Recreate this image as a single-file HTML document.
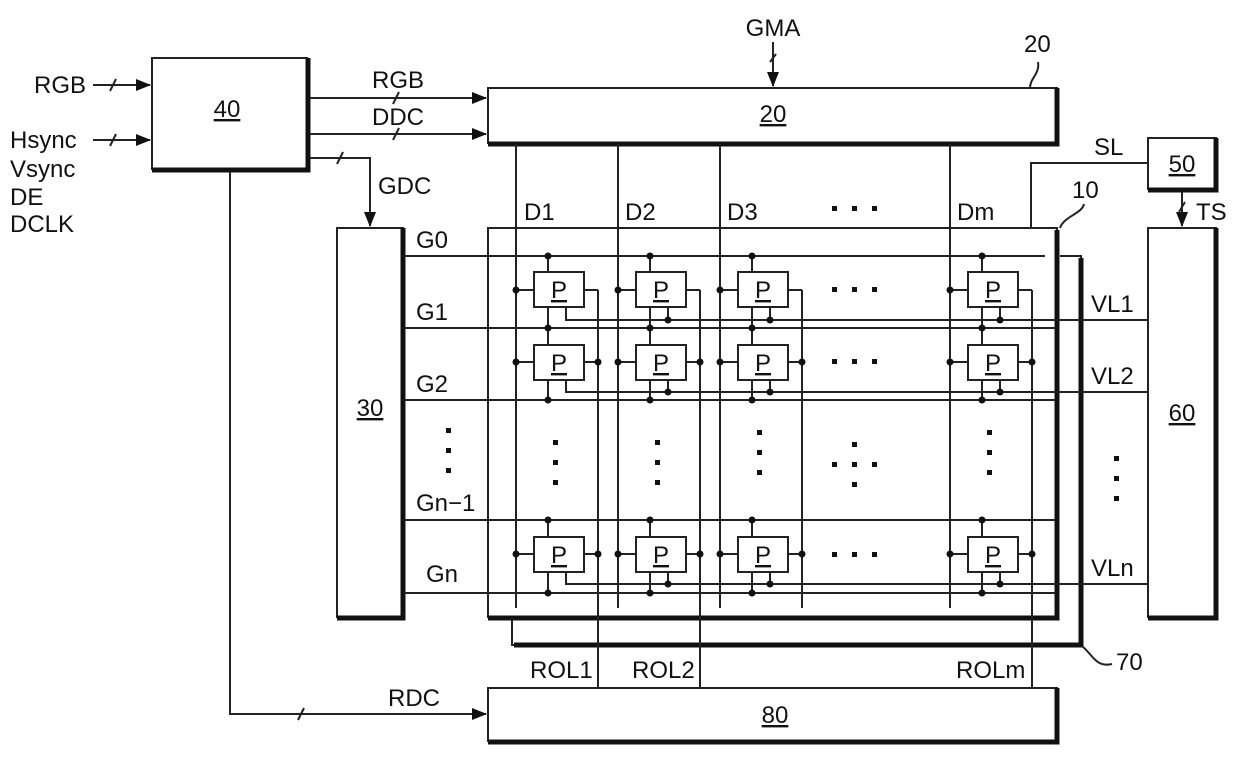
<!DOCTYPE html>
<html><head><meta charset="utf-8"><style>
html,body{margin:0;padding:0;background:#fff;}
svg{display:block;}
text{font-family:"Liberation Sans",sans-serif;font-size:24px;fill:#111;}
</style></head><body>
<svg width="1240" height="761" viewBox="0 0 1240 761" xmlns="http://www.w3.org/2000/svg">
<defs>
<marker id="ar" markerWidth="15" markerHeight="12" refX="14" refY="6" orient="auto" markerUnits="userSpaceOnUse"><path d="M0,0 L15,6 L0,12 z" fill="#111"/></marker>
</defs>
<g stroke="#222" stroke-width="2" fill="none">
<polyline points="1060,256 1081,256 1081,645 512,645 512,620" />
</g>
<g stroke="#111" stroke-width="5" fill="none">
<polyline points="1081,258 1081,645 514,645"/>
</g>
<g stroke="#222" stroke-width="2" fill="#fff">
<rect x="152" y="58" width="155" height="111"/>
<rect x="488" y="88" width="569" height="55"/>
<rect x="337" y="228" width="66" height="389"/>
<rect x="488" y="228" width="569" height="389"/>
<rect x="1148" y="228" width="68" height="389"/>
<rect x="1148" y="138" width="68" height="51"/>
<rect x="488" y="688" width="569" height="53"/>
</g>
<g stroke="#111" stroke-width="5" fill="none">
<polyline points="308,58 308,170 152,170"/>
<polyline points="1057,88 1057,144 488,144"/>
<polyline points="403,228 403,618 337,618"/>
<polyline points="1057,230 1057,618 488,618"/>
<polyline points="1216,228 1216,618 1148,618"/>
<polyline points="1216,138 1216,190 1148,190"/>
<polyline points="1057,688 1057,742 488,742"/>
</g>
<g stroke="#222" stroke-width="2" fill="none">
<line x1="93" y1="85" x2="150" y2="85" marker-end="url(#ar)"/>
<line x1="93" y1="140" x2="150" y2="140" marker-end="url(#ar)"/>
<line x1="110" y1="91" x2="116" y2="79"/><line x1="110" y1="146" x2="116" y2="134"/>
<line x1="310" y1="98" x2="486" y2="98" marker-end="url(#ar)"/>
<line x1="310" y1="134" x2="486" y2="134" marker-end="url(#ar)"/>
<line x1="393" y1="104" x2="399" y2="92"/><line x1="393" y1="140" x2="399" y2="128"/>
<polyline points="310,158 370,158 370,226" marker-end="url(#ar)"/>
<line x1="337" y1="164" x2="343" y2="152"/>
<polyline points="230,172 230,714 486,714" marker-end="url(#ar)"/>
<line x1="298" y1="720" x2="304" y2="708"/>
<line x1="773" y1="42" x2="773" y2="86" marker-end="url(#ar)"/>
<line x1="770" y1="62" x2="776" y2="54"/>
<path d="M1030,88 C1030,78 1040,74 1038,62"/>
<path d="M1060,228 C1064,216 1082,214 1084,204"/>
<path d="M1083,647 C1092,654 1096,668 1112,664"/>
<polyline points="1148,163 1031,163 1031,228"/>
<line x1="1182" y1="191" x2="1182" y2="226" marker-end="url(#ar)"/>
<line x1="1179" y1="212" x2="1185" y2="202"/>
<line x1="516" y1="144" x2="516" y2="608"/>
<line x1="618" y1="144" x2="618" y2="608"/>
<line x1="720" y1="144" x2="720" y2="608"/>
<line x1="950" y1="144" x2="950" y2="608"/>
<line x1="598" y1="290" x2="598" y2="688"/>
<line x1="700" y1="290" x2="700" y2="688"/>
<line x1="802" y1="290" x2="802" y2="608"/>
<line x1="1032" y1="290" x2="1032" y2="688"/>
<line x1="404" y1="256" x2="1045" y2="256"/>
<line x1="404" y1="328" x2="1055" y2="328"/>
<line x1="404" y1="400" x2="1055" y2="400"/>
<line x1="404" y1="520" x2="1055" y2="520"/>
<line x1="404" y1="593" x2="1055" y2="593"/>
<polyline points="566,307 566,320 1148,320"/>
<polyline points="566,380 566,392 1148,392"/>
<polyline points="566,572 566,584 1148,584"/>
<line x1="548" y1="256" x2="548" y2="400"/><line x1="548" y1="520" x2="548" y2="593"/>
<line x1="650" y1="256" x2="650" y2="400"/><line x1="650" y1="520" x2="650" y2="593"/>
<line x1="752" y1="256" x2="752" y2="400"/><line x1="752" y1="520" x2="752" y2="593"/>
<line x1="982" y1="256" x2="982" y2="400"/><line x1="982" y1="520" x2="982" y2="593"/>
<line x1="668" y1="307" x2="668" y2="320"/><line x1="668" y1="380" x2="668" y2="392"/><line x1="668" y1="572" x2="668" y2="584"/>
<line x1="770" y1="307" x2="770" y2="320"/><line x1="770" y1="380" x2="770" y2="392"/><line x1="770" y1="572" x2="770" y2="584"/>
<line x1="1000" y1="307" x2="1000" y2="320"/><line x1="1000" y1="380" x2="1000" y2="392"/><line x1="1000" y1="572" x2="1000" y2="584"/>
<path d="M516,290h18M584,290h14M618,290h18M686,290h14M720,290h18M788,290h14M950,290h18M1018,290h14"/>
<path d="M516,362h18M584,362h14M618,362h18M686,362h14M720,362h18M788,362h14M950,362h18M1018,362h14"/>
<path d="M516,554h18M584,554h14M618,554h18M686,554h14M720,554h18M788,554h14M950,554h18M1018,554h14"/>
</g>
<g stroke="#222" stroke-width="2" fill="#fff">
<rect x="534" y="272" width="50" height="35"/><rect x="636" y="272" width="50" height="35"/><rect x="738" y="272" width="50" height="35"/><rect x="968" y="272" width="50" height="35"/>
<rect x="534" y="345" width="50" height="35"/><rect x="636" y="345" width="50" height="35"/><rect x="738" y="345" width="50" height="35"/><rect x="968" y="345" width="50" height="35"/>
<rect x="534" y="537" width="50" height="35"/><rect x="636" y="537" width="50" height="35"/><rect x="738" y="537" width="50" height="35"/><rect x="968" y="537" width="50" height="35"/>
</g>
<g fill="#111">
<circle cx="548" cy="256" r="3.5"/><circle cx="650" cy="256" r="3.5"/><circle cx="752" cy="256" r="3.5"/><circle cx="982" cy="256" r="3.5"/>
<circle cx="548" cy="328" r="3.5"/><circle cx="650" cy="328" r="3.5"/><circle cx="752" cy="328" r="3.5"/><circle cx="982" cy="328" r="3.5"/>
<circle cx="548" cy="400" r="3.5"/><circle cx="650" cy="400" r="3.5"/><circle cx="752" cy="400" r="3.5"/><circle cx="982" cy="400" r="3.5"/>
<circle cx="548" cy="520" r="3.5"/><circle cx="650" cy="520" r="3.5"/><circle cx="752" cy="520" r="3.5"/><circle cx="982" cy="520" r="3.5"/>
<circle cx="548" cy="593" r="3.5"/><circle cx="650" cy="593" r="3.5"/><circle cx="752" cy="593" r="3.5"/><circle cx="982" cy="593" r="3.5"/>
<circle cx="516" cy="290" r="3.5"/><circle cx="618" cy="290" r="3.5"/><circle cx="720" cy="290" r="3.5"/><circle cx="950" cy="290" r="3.5"/>
<circle cx="516" cy="362" r="3.5"/><circle cx="618" cy="362" r="3.5"/><circle cx="720" cy="362" r="3.5"/><circle cx="950" cy="362" r="3.5"/>
<circle cx="516" cy="554" r="3.5"/><circle cx="618" cy="554" r="3.5"/><circle cx="720" cy="554" r="3.5"/><circle cx="950" cy="554" r="3.5"/>
<circle cx="598" cy="362" r="3.5"/><circle cx="700" cy="362" r="3.5"/><circle cx="802" cy="362" r="3.5"/><circle cx="1032" cy="362" r="3.5"/>
<circle cx="598" cy="554" r="3.5"/><circle cx="700" cy="554" r="3.5"/><circle cx="802" cy="554" r="3.5"/><circle cx="1032" cy="554" r="3.5"/>
<circle cx="668" cy="320" r="3.5"/><circle cx="770" cy="320" r="3.5"/><circle cx="1000" cy="320" r="3.5"/>
<circle cx="668" cy="392" r="3.5"/><circle cx="770" cy="392" r="3.5"/><circle cx="1000" cy="392" r="3.5"/>
<circle cx="668" cy="584" r="3.5"/><circle cx="770" cy="584" r="3.5"/><circle cx="1000" cy="584" r="3.5"/>
<path d="M832,206h5v5h-5zM852,206h5v5h-5zM872,206h5v5h-5z"/>
<path d="M832,287h5v5h-5zM852,287h5v5h-5zM872,287h5v5h-5z"/>
<path d="M832,359h5v5h-5zM852,359h5v5h-5zM872,359h5v5h-5z"/>
<path d="M832,552h5v5h-5zM852,552h5v5h-5zM872,552h5v5h-5z"/>
<path d="M446,428h5v5h-5zM446,448h5v5h-5zM446,468h5v5h-5z"/>
<path d="M553,440h5v5h-5zM553,460h5v5h-5zM553,480h5v5h-5z"/>
<path d="M655,440h5v5h-5zM655,460h5v5h-5zM655,480h5v5h-5z"/>
<path d="M757,430h5v5h-5zM757,450h5v5h-5zM757,470h5v5h-5z"/>
<path d="M987,430h5v5h-5zM987,450h5v5h-5zM987,470h5v5h-5z"/>
<path d="M852,442h5v5h-5zM832,462h5v5h-5zM852,462h5v5h-5zM872,462h5v5h-5zM852,482h5v5h-5z"/>
<path d="M1114,456h5v5h-5zM1114,476h5v5h-5zM1114,496h5v5h-5z"/>
</g>
<g>
<text x="86" y="93" text-anchor="end">RGB</text>
<text x="10" y="148">Hsync</text>
<text x="10" y="177">Vsync</text>
<text x="10" y="205">DE</text>
<text x="10" y="232">DCLK</text>
<text x="227" y="117" text-anchor="middle" text-decoration="underline">40</text>
<text x="398" y="88" text-anchor="middle">RGB</text>
<text x="398" y="125" text-anchor="middle">DDC</text>
<text x="378" y="194">GDC</text>
<text x="773" y="36" text-anchor="middle">GMA</text>
<text x="773" y="122" text-anchor="middle" text-decoration="underline">20</text>
<text x="1024" y="52">20</text>
<text x="524" y="220">D1</text>
<text x="625" y="220">D2</text>
<text x="727" y="220">D3</text>
<text x="957" y="220">Dm</text>
<text x="1072" y="198">10</text>
<text x="1094" y="155">SL</text>
<text x="1182" y="172" text-anchor="middle" text-decoration="underline">50</text>
<text x="1196" y="220">TS</text>
<text x="416" y="248">G0</text>
<text x="416" y="320">G1</text>
<text x="416" y="392">G2</text>
<text x="416" y="511">Gn−1</text>
<text x="426" y="582">Gn</text>
<text x="370" y="416" text-anchor="middle" text-decoration="underline">30</text>
<text x="1182" y="421" text-anchor="middle" text-decoration="underline">60</text>
<text x="1091" y="312">VL1</text>
<text x="1091" y="384">VL2</text>
<text x="1091" y="576">VLn</text>
<text x="530" y="678">ROL1</text>
<text x="632" y="678">ROL2</text>
<text x="956" y="678">ROLm</text>
<text x="1116" y="670">70</text>
<text x="388" y="706">RDC</text>
<text x="775" y="723" text-anchor="middle" text-decoration="underline">80</text>
</g>
<g style="font-size:23px">
<text x="559" y="298" text-anchor="middle" text-decoration="underline">P</text><text x="661" y="298" text-anchor="middle" text-decoration="underline">P</text><text x="763" y="298" text-anchor="middle" text-decoration="underline">P</text><text x="993" y="298" text-anchor="middle" text-decoration="underline">P</text>
<text x="559" y="371" text-anchor="middle" text-decoration="underline">P</text><text x="661" y="371" text-anchor="middle" text-decoration="underline">P</text><text x="763" y="371" text-anchor="middle" text-decoration="underline">P</text><text x="993" y="371" text-anchor="middle" text-decoration="underline">P</text>
<text x="559" y="563" text-anchor="middle" text-decoration="underline">P</text><text x="661" y="563" text-anchor="middle" text-decoration="underline">P</text><text x="763" y="563" text-anchor="middle" text-decoration="underline">P</text><text x="993" y="563" text-anchor="middle" text-decoration="underline">P</text>
</g>
</svg>
</body></html>
